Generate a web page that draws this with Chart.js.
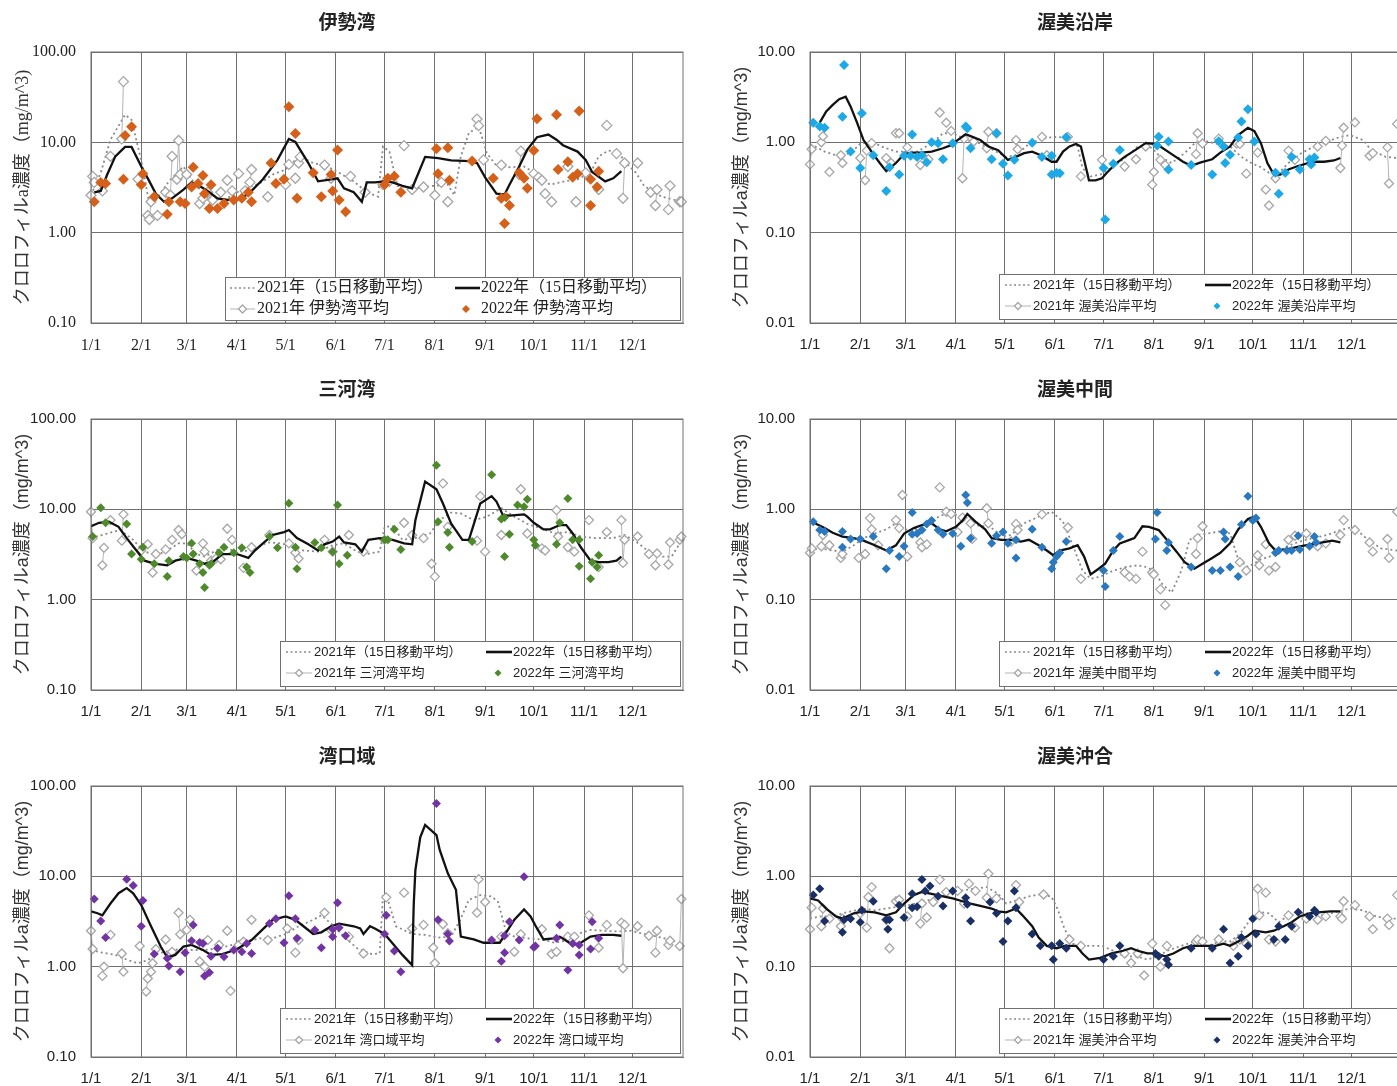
<!DOCTYPE html>
<html>
<head>
<meta charset="utf-8">
<script src="https://cdn.jsdelivr.net/npm/chart.js@4.4.1/dist/chart.umd.min.js"></script>
<style>
html, body { margin: 0; padding: 0; background: #fff; overflow: hidden; width: 1397px; height: 1086px; }
.panel { position: absolute; width: 700px; height: 367px; }
</style>
</head>
<body>
<div class="panel" style="left:0;top:0"><canvas id="c1" width="700" height="367"></canvas></div>
<div class="panel" style="left:719px;top:0"><canvas id="c2" width="700" height="367"></canvas></div>
<div class="panel" style="left:0;top:367px"><canvas id="c3" width="700" height="367"></canvas></div>
<div class="panel" style="left:719px;top:367px"><canvas id="c4" width="700" height="367"></canvas></div>
<div class="panel" style="left:0;top:734px"><canvas id="c5" width="700" height="367"></canvas></div>
<div class="panel" style="left:719px;top:734px"><canvas id="c6" width="700" height="367"></canvas></div>
<script>
// Axis ticks
const monthTicks = [0, 31, 59, 90, 120, 151, 181, 212, 243, 273, 304, 334];
const monthLabels = ['1/1', '2/1', '3/1', '4/1', '5/1', '6/1', '7/1', '8/1', '9/1', '10/1', '11/1', '12/1'];
const bayTicks = [0.1, 1, 10, 100];
const atsumiTicks = [0.01, 0.1, 1, 10];

// 伊勢湾
const ise21Days = [0,1,2,7,12,19,20,29,35,36,37,41,46,49,50,53,54,55,59,67,69,72,75,80,84,87,91,95,98,99,109,120,122,126,128,129,144,148,160,169,180,184,193,198,205,212,216,220,238,239,242,253,264,265,273,276,278,280,284,294,299,305,313,318,324,328,329,337,345,348,349,356,357,363,364];
const ise21Vals = [2.6,4.2,3.6,2.9,7.0,10.9,47,3.9,1.55,1.4,2.2,1.55,2.8,2.6,7.0,3.9,10.5,4.4,4.4,2.1,2.4,2.8,2.3,2.8,3.8,2.9,4.5,2.9,3.6,5.0,2.5,3.4,5.7,4.0,5.9,6.9,5.6,4.0,4.2,2.8,3.4,3.7,9.2,3.0,3.2,2.6,3.6,2.2,18.1,15.3,6.4,5.6,4.4,8.0,4.5,4.1,3.8,2.7,2.2,5.4,2.2,4.6,3.0,15.4,7.5,2.4,5.9,5.9,2.8,2.0,3.0,1.8,3.3,2.2,2.2];
const ise21AvgDays = [0,6,12,21,25,32,36,40,48,57,62,70,76,84,93,104,112,120,126,131,137,145,153,162,170,177,180,184,189,200,211,220,224,228,233,239,244,250,258,267,275,283,292,300,308,313,319,325,330,336,341,347,352,360,365];
const ise21Avg = [2.6,4.6,10.7,20.2,17.8,5.2,2.05,2.3,3.7,5.4,3.9,2.6,2.3,2.4,3.0,3.5,4.4,5.0,6.4,6.7,5.9,5.5,4.6,3.7,2.8,2.5,9.0,7.9,3.3,3.1,3.3,3.4,2.6,7.0,12.7,15.0,7.6,5.5,5.3,5.4,4.4,3.4,3.7,3.9,4.6,7.0,8.1,7.8,5.9,4.6,3.3,2.8,2.5,2.3,2.1];
const ise22Days = [2,6,9,20,21,25,31,32,39,47,48,55,58,62,63,66,69,70,73,74,78,82,88,93,97,99,111,114,119,122,126,127,137,142,148,149,152,153,157,181,183,187,191,213,214,220,221,235,248,253,255,256,258,264,267,269,273,275,287,288,294,297,300,301,308,308,312,313];
const ise22Vals = [2.2,3.6,3.5,3.9,11.9,14.9,3.4,4.5,2.5,1.6,2.2,2.2,2.1,3.2,5.3,3.5,4.3,2.7,1.85,3.4,1.85,2.1,2.3,2.4,2.8,2.2,5.9,3.5,3.9,24.7,12.5,2.4,4.6,2.5,4.4,2.9,8.2,2.3,1.7,3.4,4.0,4.2,2.8,8.5,4.5,8.7,3.8,6.2,4.0,2.4,1.26,2.5,2.0,4.6,4.0,3.1,8.1,18.2,20.2,5.0,6.1,4.1,4.5,22.2,3.9,2.0,3.2,4.8];
const ise22AvgDays = [2,6,10,15,21,25,31,36,40,45,50,57,62,68,73,78,84,93,99,106,115,122,126,134,140,148,152,156,162,167,170,175,181,186,192,198,206,214,222,233,238,243,250,255,258,264,269,275,282,287,291,300,305,309,317,322,327];
const ise22Avg = [2.8,2.9,4.4,7.0,8.9,8.9,5.4,3.7,2.7,2.2,2.4,3.0,3.6,3.2,2.8,2.4,2.3,2.4,2.9,3.9,6.4,10.9,10.1,5.9,3.7,3.9,4.0,3.1,2.8,2.2,3.6,3.6,3.7,3.6,3.3,3.1,6.9,6.7,6.3,6.2,5.9,4.1,2.7,2.65,3.4,5.4,8.3,11.4,12.2,10.7,9.3,7.9,6.4,4.7,3.7,4.0,4.8];

// 渥美沿岸
const engan21Days = [0,1,7,8,12,19,20,31,34,35,38,47,50,53,55,60,68,73,80,84,87,94,95,101,109,110,115,127,128,143,146,159,167,180,194,201,207,211,212,216,219,238,239,242,252,263,265,269,276,281,283,287,295,299,313,318,327,328,329,336,345,347,356,357,362];
const engan21Vals = [0.57,0.84,1.0,1.17,0.47,0.72,0.59,0.67,0.38,0.81,0.98,0.67,0.59,1.26,1.26,0.88,0.56,0.65,2.14,1.65,1.34,0.4,1.1,1.02,0.86,1.31,1.26,1.06,0.84,1.15,0.72,1.15,0.42,0.64,0.54,0.65,0.9,0.34,0.47,0.64,0.56,0.74,1.26,0.97,1.1,0.97,0.96,0.45,0.77,0.3,0.2,0.4,0.81,0.64,0.9,1.04,0.52,0.92,1.45,1.66,0.71,0.76,0.88,0.35,1.6];
const engan21AvgDays = [0,3,9,14,20,27,31,38,44,53,58,66,75,82,88,97,105,113,121,127,135,143,152,160,165,168,173,179,187,195,202,207,211,216,223,231,237,242,250,259,266,272,278,283,289,295,303,311,319,327,333,341,346,355,362];
const engan21Avg = [0.93,0.9,0.79,0.74,0.69,0.82,0.97,1.02,0.9,0.79,0.79,0.79,0.97,1.26,1.26,1.06,0.97,0.82,0.69,0.72,0.96,1.1,1.15,1.1,0.9,0.52,0.42,0.44,0.54,0.69,0.9,0.93,0.86,0.69,0.59,0.76,0.97,1.06,0.97,0.9,0.69,0.59,0.53,0.46,0.46,0.59,0.76,0.9,1.02,1.15,1.2,1.06,0.82,0.69,0.67];
const engan22Days = [2,6,9,20,21,25,31,32,39,47,49,55,58,62,63,66,69,72,75,79,82,88,96,97,99,112,115,119,122,126,137,143,149,149,152,154,158,181,182,187,191,214,215,221,221,235,248,252,255,256,259,264,266,270,274,287,289,293,297,302,308,309,311];
const engan22Vals = [1.65,1.5,1.45,1.92,7.2,0.79,0.52,2.1,0.72,0.29,0.53,0.44,0.71,0.71,1.22,0.69,0.72,0.6,1.0,0.98,0.65,0.98,1.5,1.43,0.86,0.65,1.26,0.58,0.43,0.64,0.99,0.69,0.71,0.44,0.46,0.455,1.14,0.52,0.14,0.58,0.82,0.92,1.15,1.02,0.5,0.56,0.44,1.03,0.9,0.59,0.73,1.13,1.7,2.33,1.02,0.46,0.27,0.46,0.69,0.5,0.65,0.57,0.68];
const engan22AvgDays = [6,10,14,18,22,25,29,33,39,43,47,53,58,64,69,75,82,87,91,96,99,105,110,116,122,127,132,137,143,149,152,156,160,164,167,169,172,176,180,183,189,194,200,207,212,216,223,230,235,241,248,253,259,264,270,274,278,282,286,290,295,300,307,312,317,323,327];
const engan22Avg = [1.65,2.2,2.6,3.0,3.2,2.5,1.65,1.06,0.74,0.59,0.48,0.59,0.74,0.77,0.77,0.79,0.86,0.93,1.06,1.23,1.17,1.06,0.9,0.82,0.64,0.69,0.76,0.79,0.71,0.61,0.61,0.79,0.9,0.96,0.9,0.64,0.38,0.38,0.4,0.46,0.59,0.69,0.81,0.98,0.96,0.9,0.74,0.61,0.55,0.6,0.65,0.77,0.9,1.2,1.45,1.33,0.98,0.59,0.44,0.44,0.5,0.54,0.59,0.61,0.61,0.63,0.67];

// 三河湾
const mikawa21Days = [0,1,7,8,12,19,20,31,35,38,40,46,50,54,56,65,69,70,74,77,80,84,87,94,99,110,122,126,128,144,149,159,168,181,193,198,205,210,212,217,220,238,240,243,253,265,269,278,280,287,288,294,298,307,313,318,327,328,329,337,344,348,349,356,357,363,364];
const mikawa21Vals = [9.4,4.8,2.4,3.75,7.6,4.5,8.8,3.5,4.1,2.0,3.2,3.6,4.6,5.9,5.3,2.1,4.2,3.4,2.7,2.85,2.8,6.1,4.6,2.25,3.8,5.2,4.2,3.3,2.85,4.6,3.4,5.2,3.4,4.6,7.1,5.2,4.8,2.5,1.8,19.4,6.4,4.5,14.0,3.4,5.2,16.7,5.4,3.7,3.5,9.8,5.0,3.8,3.4,7.6,2.3,5.6,7.6,2.55,4.6,5.0,3.2,2.4,3.25,2.45,4.3,4.6,5.0];
const mikawa21AvgDays = [0,10,18,26,32,39,46,54,59,65,70,76,81,90,98,109,117,126,131,140,149,156,164,170,178,181,186,192,200,209,215,222,228,236,244,253,261,269,278,286,294,302,311,322,329,336,344,352,358,365];
const mikawa21Avg = [4.8,5.4,5.9,4.6,3.5,3.1,3.4,4.2,4.2,3.2,3.0,3.4,3.8,3.4,3.5,4.3,4.2,3.8,3.5,3.4,4.0,4.2,3.4,3.2,3.4,6.4,6.5,4.6,4.8,5.4,7.6,9.2,9.0,7.6,8.3,10.3,8.3,6.9,6.1,5.4,5.6,5.0,4.8,4.8,5.2,4.4,3.4,3.0,3.0,4.8];
const mikawa22Days = [1,6,9,22,25,31,32,39,47,48,57,59,62,63,67,69,70,73,74,79,82,88,93,96,98,110,115,122,126,127,138,142,149,152,153,158,181,183,187,191,213,214,220,221,235,247,253,255,255,258,263,267,269,273,274,287,289,294,297,301,301,308,309,312,313];
const mikawa22Vals = [5.0,10.4,7.1,6.9,3.2,2.8,3.8,2.5,1.8,2.7,3.0,2.9,4.2,3.2,2.5,2.0,1.36,2.4,2.5,3.3,3.8,3.3,3.75,2.3,2.0,5.0,3.75,11.7,3.8,2.2,4.3,3.75,3.4,11.2,2.5,3.1,4.6,4.6,6.0,3.6,30.8,7.3,5.55,3.8,4.4,24.1,7.8,8.1,3.0,5.3,11.2,10.7,12.9,4.6,4.0,4.1,7.1,13.2,4.6,2.35,4.6,1.7,2.6,2.3,3.1];
const mikawa22AvgDays = [0,5,11,17,22,28,33,39,47,52,59,65,70,75,81,90,97,101,106,112,119,122,127,134,140,144,149,153,156,163,167,171,178,186,193,198,200,206,213,217,222,229,233,240,247,250,254,258,267,269,273,279,283,289,293,297,302,308,313,319,324,327];
const mikawa22Avg = [6.5,7.1,7.3,6.4,4.8,3.5,2.7,2.5,2.4,2.7,2.9,2.7,2.5,2.6,3.2,3.2,2.9,3.5,4.2,5.2,5.6,5.9,4.8,4.1,3.5,4.1,4.4,5.0,4.3,4.1,3.4,4.6,4.8,4.6,4.2,4.1,7.6,20.3,16.7,11.6,7.0,4.6,4.6,11.6,14.0,12.2,8.6,8.5,8.8,8.3,7.1,6.0,6.0,6.7,6.7,5.4,3.8,2.7,2.6,2.6,2.7,3.0];

// 渥美中間
const chukan21Days = [0,1,7,8,12,19,20,30,34,37,38,42,53,55,57,60,68,69,72,80,84,87,91,94,99,100,109,110,124,127,128,143,159,167,194,197,201,205,211,212,216,219,238,239,242,265,269,276,277,281,283,287,295,299,306,313,318,327,329,336,345,347,356,357,362];
const chukan21Vals = [0.33,0.37,0.39,0.52,0.4,0.29,0.32,0.29,0.32,0.8,0.6,0.4,0.76,0.62,1.44,0.3,0.43,0.38,0.41,1.75,0.94,0.89,0.56,0.81,0.7,0.47,1.03,0.7,0.44,0.69,0.59,0.88,0.63,0.17,0.2,0.18,0.17,0.34,0.2,0.19,0.13,0.087,0.32,0.48,0.65,0.26,0.21,0.31,0.24,0.41,0.21,0.23,0.46,0.51,0.54,0.39,0.42,0.52,0.76,0.59,0.43,0.34,0.47,0.29,0.94];
const chukan21AvgDays = [0,6,14,20,27,33,40,47,53,58,64,72,80,87,94,102,111,119,124,132,141,149,156,162,168,173,179,187,195,202,207,212,217,223,229,234,239,245,253,259,264,270,278,286,294,302,310,319,327,335,344,352,362];
const chukan21Avg = [0.35,0.37,0.35,0.34,0.4,0.48,0.54,0.6,0.7,0.6,0.59,0.7,0.84,0.94,0.77,0.67,0.64,0.5,0.52,0.7,0.83,0.94,0.73,0.4,0.21,0.17,0.18,0.21,0.23,0.24,0.23,0.21,0.15,0.12,0.21,0.46,0.52,0.54,0.57,0.54,0.28,0.23,0.28,0.31,0.39,0.44,0.48,0.52,0.59,0.64,0.46,0.37,0.35];
const chukan22Days = [2,6,9,20,20,25,31,39,47,49,55,58,63,63,66,69,72,75,79,82,88,93,96,97,99,112,115,119,122,127,127,137,143,149,150,152,154,158,181,182,187,191,213,214,220,221,235,248,253,255,256,259,264,266,270,273,275,287,289,294,297,301,302,308,311,312];
const chukan22Vals = [0.73,0.59,0.57,0.57,0.38,0.47,0.47,0.5,0.22,0.35,0.3,0.39,0.92,0.53,0.54,0.59,0.69,0.75,0.59,0.53,0.54,0.39,1.44,1.18,0.48,0.42,0.51,0.56,0.42,0.29,0.46,0.6,0.38,0.22,0.26,0.3,0.33,0.44,0.21,0.14,0.35,0.5,0.47,0.92,0.35,0.43,0.23,0.21,0.21,0.56,0.47,0.23,0.18,0.68,1.4,0.75,0.8,0.33,0.35,0.35,0.35,0.51,0.36,0.39,0.5,0.43];
const chukan22AvgDays = [3,9,14,20,27,33,40,47,53,58,64,69,75,80,84,90,94,97,102,108,112,118,124,130,135,141,146,150,154,160,165,169,173,178,182,187,191,197,200,205,209,215,220,226,231,237,242,248,253,259,264,270,274,278,283,287,294,302,309,316,322,327];
const chukan22Avg = [0.7,0.62,0.55,0.5,0.48,0.45,0.4,0.35,0.4,0.54,0.62,0.67,0.7,0.6,0.57,0.64,0.75,0.89,0.73,0.6,0.48,0.46,0.46,0.44,0.46,0.4,0.35,0.31,0.35,0.37,0.4,0.3,0.19,0.22,0.25,0.35,0.42,0.46,0.48,0.65,0.64,0.59,0.46,0.34,0.26,0.22,0.25,0.29,0.33,0.42,0.6,0.78,0.83,0.64,0.42,0.35,0.36,0.39,0.41,0.43,0.45,0.43];

// 湾口域
const mouth21Days = [0,1,7,8,12,19,20,30,34,35,37,38,40,46,49,50,54,55,59,61,67,70,72,79,84,86,91,94,99,109,121,126,128,144,148,159,168,182,193,198,205,211,212,217,220,238,239,243,253,261,265,278,284,287,294,298,307,313,318,327,328,329,337,344,348,349,356,357,363,364];
const mouth21Vals = [2.5,1.57,0.79,1.0,2.25,1.4,0.88,1.69,0.53,0.74,0.88,1.09,1.56,2.0,1.35,1.46,3.96,2.28,2.55,3.3,1.14,1.0,1.97,1.74,2.5,0.54,1.74,1.89,3.3,1.97,2.65,1.43,1.97,3.96,2.55,2.15,1.4,5.85,6.6,2.65,2.9,1.62,1.09,2.95,2.35,3.96,9.3,5.2,2.15,1.46,2.28,2.6,1.38,1.46,2.15,2.15,3.7,1.62,2.9,3.07,0.96,2.9,2.8,2.2,1.43,2.5,1.74,1.94,1.69,5.6];
const mouth21AvgDays = [0,7,15,23,29,35,40,46,54,62,70,79,87,95,104,112,120,128,137,142,148,156,164,173,178,180,183,188,198,206,214,222,228,233,240,247,251,256,261,269,278,286,294,300,308,316,325,333,341,349,358,365];
const mouth21Avg = [1.53,1.43,1.35,1.18,1.09,1.18,1.4,1.46,1.56,1.53,1.53,1.6,1.74,1.89,2.06,2.06,2.3,2.8,3.3,3.7,3.0,2.15,1.6,1.38,1.4,6.0,5.5,2.8,2.3,2.25,2.1,2.15,3.4,5.5,6.2,6.0,5.2,2.4,2.15,2.06,2.0,1.84,1.97,2.3,2.55,2.5,2.45,2.5,2.3,2.15,1.97,1.74];
const mouth22Days = [2,6,9,22,26,31,32,39,47,48,55,58,62,63,67,69,70,73,74,78,82,88,93,96,99,110,114,119,122,126,127,138,142,149,149,152,153,157,181,182,187,191,213,214,220,221,247,253,255,255,258,264,267,273,274,287,289,294,297,301,301,308,309,313];
const mouth22Vals = [5.6,3.2,2.1,9.3,7.9,2.8,5.4,1.38,1.24,1.02,0.88,1.43,1.94,2.9,1.85,1.81,0.79,0.86,1.3,1.6,1.29,1.53,1.46,1.81,1.4,3.0,3.4,1.84,6.1,3.4,2.06,2.55,1.62,2.15,2.6,5.1,2.7,2.2,2.3,3.7,1.49,0.88,64,3.3,2.3,1.92,1.97,1.15,1.43,2.2,3.15,1.97,9.9,1.64,1.69,2.06,2.9,0.92,1.81,1.35,1.74,1.57,3.15,2.06];
const mouth22AvgDays = [0,4,7,12,17,22,26,31,37,43,47,52,57,62,69,74,81,90,99,106,112,120,126,131,137,142,148,153,162,166,168,172,175,181,186,192,198,199,200,203,206,213,215,220,225,228,231,236,242,247,252,257,261,267,271,275,279,285,289,293,297,302,308,315,322,327];
const mouth22Avg = [4.1,3.9,3.7,5.0,6.5,7.4,6.5,4.8,2.8,1.67,1.27,1.35,1.67,1.74,1.53,1.35,1.38,1.56,1.97,2.6,3.3,3.6,3.3,2.8,2.3,2.4,2.8,3.0,2.8,2.65,2.3,2.8,2.65,2.3,1.81,1.35,1.04,5.0,11.7,27,37,28.6,19.6,10.8,7.1,2.15,2.1,2.0,1.84,1.84,1.84,2.55,3.3,4.3,3.6,2.65,2.0,2.06,2.15,1.94,1.74,1.84,2.15,2.25,2.25,2.2];

// 渥美沖合
const oki21Days = [0,1,7,8,12,19,20,31,35,36,38,47,49,53,55,60,68,69,72,76,80,84,91,95,98,102,109,110,115,127,129,144,160,167,194,198,202,206,211,216,220,238,239,242,252,261,265,269,276,277,281,283,287,295,299,306,313,318,327,328,329,336,345,347,356,357,362];
const oki21Vals = [0.26,0.45,0.28,0.44,0.34,0.28,0.34,0.39,0.27,0.59,0.76,0.33,0.16,0.53,0.55,0.36,0.3,0.5,0.35,0.52,0.92,0.67,0.69,0.5,0.83,0.69,0.58,1.07,0.57,0.8,0.52,0.63,0.2,0.17,0.14,0.11,0.14,0.08,0.18,0.1,0.17,0.19,0.2,0.19,0.2,0.17,0.2,0.18,0.73,0.37,0.66,0.2,0.19,0.37,0.27,0.34,0.33,0.36,0.36,0.34,0.53,0.48,0.36,0.26,0.34,0.29,0.62];
const oki21AvgDays = [0,6,14,20,28,33,40,47,54,61,69,77,86,94,102,109,116,121,127,135,143,149,153,157,162,168,173,180,187,194,201,208,215,220,229,237,245,253,259,265,272,278,283,289,294,301,308,316,324,333,341,349,357,362];
const oki21Avg = [0.34,0.36,0.36,0.39,0.42,0.44,0.42,0.44,0.46,0.48,0.52,0.57,0.64,0.7,0.73,0.76,0.64,0.5,0.54,0.6,0.64,0.59,0.42,0.26,0.18,0.17,0.17,0.17,0.15,0.13,0.13,0.12,0.13,0.15,0.17,0.19,0.17,0.19,0.19,0.23,0.34,0.4,0.39,0.31,0.36,0.39,0.39,0.37,0.4,0.44,0.42,0.36,0.34,0.34];
const oki22Days = [2,6,9,20,21,25,31,32,39,47,48,49,55,58,63,63,66,69,71,74,79,82,88,96,97,99,111,115,119,122,126,127,137,142,149,150,154,158,181,187,191,213,215,220,221,235,248,255,259,264,266,270,273,275,286,289,293,297,301,308,311,312];
const oki22Vals = [0.62,0.73,0.32,0.24,0.33,0.34,0.31,0.42,0.53,0.33,0.26,0.33,0.48,0.35,0.64,0.45,0.46,0.92,0.69,0.78,0.6,0.47,0.69,0.58,0.49,0.32,0.52,0.39,0.19,0.32,0.69,0.45,0.23,0.17,0.17,0.12,0.18,0.16,0.12,0.13,0.17,0.14,0.13,0.12,0.105,0.16,0.16,0.26,0.11,0.13,0.21,0.17,0.34,0.23,0.2,0.28,0.2,0.28,0.4,0.36,0.42,0.4];
const oki22AvgDays = [0,5,10,16,20,27,33,40,47,53,58,64,69,75,82,88,94,99,105,112,116,121,127,131,137,141,146,152,157,164,168,172,179,186,193,198,202,208,213,219,224,230,235,242,250,255,259,264,270,274,281,286,292,297,302,308,313,321,327];
const oki22Avg = [0.57,0.54,0.44,0.36,0.34,0.39,0.41,0.4,0.37,0.4,0.5,0.62,0.67,0.64,0.6,0.57,0.53,0.5,0.47,0.44,0.41,0.4,0.44,0.37,0.28,0.21,0.17,0.16,0.17,0.17,0.14,0.12,0.125,0.14,0.15,0.16,0.15,0.14,0.14,0.13,0.14,0.16,0.17,0.17,0.17,0.18,0.17,0.19,0.22,0.25,0.24,0.25,0.28,0.31,0.36,0.39,0.4,0.41,0.41];

const GRID = '#707070';
const SANS = '"Liberation Sans", "Noto Sans CJK JP", sans-serif';
const SERIF = '"Liberation Serif", "Noto Sans CJK JP", serif';

function pts(days, vals) {
    return days.map((d, i) => ({ x: d, y: vals[i] }));
}

// 2021 markers are daily values: a line joins only neighbouring days
function dailyPts(days, vals) {
    const out = [];
    days.forEach((d, i) => {
        if (i > 0 && d - days[i - 1] > 1) out.push({ x: d - 0.5, y: null });
        out.push({ x: d, y: vals[i] });
    });
    return out;
}

function diamond(ctx, x, y, r, fill, stroke) {
    ctx.beginPath();
    ctx.moveTo(x, y - r); ctx.lineTo(x + r, y); ctx.lineTo(x, y + r); ctx.lineTo(x - r, y);
    ctx.closePath();
    ctx.fillStyle = fill; ctx.fill();
    if (stroke) { ctx.strokeStyle = stroke; ctx.lineWidth = 1.3; ctx.stroke(); }
}

const sansLegend = { x: 280, y: 274, w: 400, h: 45, r1: 285, r2: 306, dot: [286, 312], tx1: 314, solid: [486, 512], tx2: 513, dia2: 498, font: '13px ' + SANS, r: 3.5 };
const serifLegend = { x: 225, y: 277, w: 455, h: 43, r1: 288, r2: 309, dot: [230, 255], tx1: 257, solid: [455, 480], tx2: 481, dia2: 466, font: '16px ' + SERIF, r: 4 };

// frame, title and in-plot legend box
const decor = {
    id: 'decor',
    afterDraw(chart, args, o) {
        const ctx = chart.ctx, a = chart.chartArea, L = o.legend;
        const ds = chart.data.datasets;
        ctx.save();
        ctx.strokeStyle = GRID; ctx.lineWidth = 1;
        ctx.strokeRect(a.left, a.top, a.right - a.left, a.bottom - a.top);

        ctx.fillStyle = '#222';
        ctx.font = 'bold 19px "Noto Sans CJK JP", sans-serif';
        ctx.textAlign = 'center'; ctx.textBaseline = 'middle';
        ctx.fillText(o.title, o.titleX, 22);

        ctx.fillStyle = '#fff';
        ctx.fillRect(L.x, L.y, L.w, L.h);
        ctx.strokeStyle = GRID; ctx.lineWidth = 1;
        ctx.strokeRect(L.x + 0.5, L.y + 0.5, L.w, L.h);

        ctx.font = L.font; ctx.textAlign = 'left'; ctx.fillStyle = '#222';
        ctx.setLineDash([2, 2.5]); ctx.strokeStyle = '#8a8a8a'; ctx.lineWidth = 1.6;
        ctx.beginPath(); ctx.moveTo(L.dot[0], L.r1); ctx.lineTo(L.dot[1], L.r1); ctx.stroke();
        ctx.setLineDash([]);
        ctx.fillStyle = '#222'; ctx.fillText(ds[0].label, L.tx1, L.r1);
        ctx.strokeStyle = '#111'; ctx.lineWidth = 2.6;
        ctx.beginPath(); ctx.moveTo(L.solid[0], L.r1); ctx.lineTo(L.solid[1], L.r1); ctx.stroke();
        ctx.fillStyle = '#222'; ctx.fillText(ds[3].label, L.tx2, L.r1);

        ctx.strokeStyle = '#b4b4b4'; ctx.lineWidth = 1;
        ctx.beginPath(); ctx.moveTo(L.dot[0], L.r2); ctx.lineTo(L.dot[1], L.r2); ctx.stroke();
        diamond(ctx, (L.dot[0] + L.dot[1]) / 2, L.r2, L.r, '#fff', '#a6a6a6');
        ctx.fillStyle = '#222'; ctx.fillText(ds[1].label, L.tx1, L.r2);
        diamond(ctx, L.dia2, L.r2, L.r, o.color);
        ctx.fillStyle = '#222'; ctx.fillText(ds[2].label, L.tx2, L.r2);
        ctx.restore();
    }
};

function makePanel(id, p) {
    const font = p.serif ? SERIF : SANS;
    new Chart(document.getElementById(id), {
        type: 'line',
        data: {
            datasets: [
                { label: '2021年（15日移動平均）', data: pts(p.avg21Days, p.avg21), borderColor: '#8a8a8a', borderWidth: 1.8, borderDash: [2, 3], pointRadius: 0, order: 4 },
                { label: '2021年 ' + p.name + '平均', data: dailyPts(p.days21, p.vals21), borderColor: '#b4b4b4', borderWidth: 1, spanGaps: false, pointStyle: 'rectRot', pointRadius: p.r21, pointBackgroundColor: '#fff', pointBorderColor: '#a6a6a6', pointBorderWidth: 1.3, order: 3, clip: 8 },
                { label: '2022年 ' + p.name + '平均', data: pts(p.days22, p.vals22), showLine: false, pointStyle: 'rectRot', pointRadius: p.r22, pointBackgroundColor: p.color, pointBorderColor: p.color, pointBorderWidth: 0, order: 1, clip: 8 },
                { label: '2022年（15日移動平均）', data: pts(p.avg22Days, p.avg22), borderColor: '#111', borderWidth: 2.3, pointRadius: 0, order: 2 }
            ]
        },
        options: {
            responsive: false,
            animation: false,
            layout: { padding: { top: 52, right: 17, bottom: 0, left: 0 } },
            plugins: {
                legend: { display: false },
                tooltip: { enabled: false },
                decor: { title: p.title, titleX: p.titleX, color: p.color, legend: p.serif ? serifLegend : sansLegend }
            },
            scales: {
                x: {
                    type: 'linear', min: 0, max: 365,
                    afterBuildTicks: s => { s.ticks = monthTicks.map(v => ({ value: v })); },
                    afterFit: s => { s.height = 44; },
                    grid: { color: GRID, lineWidth: 1, drawTicks: false },
                    border: { color: GRID },
                    ticks: { autoSkip: false, maxRotation: 0, padding: 13, color: '#222', font: { family: font, size: p.serif ? 16 : 15 }, callback: (v, i) => monthLabels[i] }
                },
                y: {
                    type: 'logarithmic', min: p.yTicks[0], max: p.yTicks[p.yTicks.length - 1],
                    afterBuildTicks: s => { s.ticks = p.yTicks.map(v => ({ value: v })); },
                    afterFit: s => { s.width = 91; },
                    grid: { color: GRID, lineWidth: 1, drawTicks: false },
                    border: { color: GRID },
                    ticks: { padding: 15, color: '#222', font: { family: font, size: p.serif ? 16 : 15 }, callback: v => Number(v).toFixed(2) },
                    title: { display: true, text: 'クロロフィルa濃度（mg/m^3)', color: '#333', padding: { top: 12 }, font: { family: font, size: 18 } }
                }
            }
        },
        plugins: [decor]
    });
}

makePanel('c1', { title: '伊勢湾', name: '伊勢湾', titleX: 347, serif: true, color: '#d4601a', r21: 5, r22: 5.5, yTicks: bayTicks,
    days21: ise21Days, vals21: ise21Vals, avg21Days: ise21AvgDays, avg21: ise21Avg, days22: ise22Days, vals22: ise22Vals, avg22Days: ise22AvgDays, avg22: ise22Avg });
makePanel('c2', { title: '渥美沿岸', name: '渥美沿岸', titleX: 356, serif: false, color: '#1ca9e6', r21: 4.5, r22: 5, yTicks: atsumiTicks,
    days21: engan21Days, vals21: engan21Vals, avg21Days: engan21AvgDays, avg21: engan21Avg, days22: engan22Days, vals22: engan22Vals, avg22Days: engan22AvgDays, avg22: engan22Avg });
makePanel('c3', { title: '三河湾', name: '三河湾', titleX: 347, serif: false, color: '#4e8a2c', r21: 4.5, r22: 4.5, yTicks: bayTicks,
    days21: mikawa21Days, vals21: mikawa21Vals, avg21Days: mikawa21AvgDays, avg21: mikawa21Avg, days22: mikawa22Days, vals22: mikawa22Vals, avg22Days: mikawa22AvgDays, avg22: mikawa22Avg });
makePanel('c4', { title: '渥美中間', name: '渥美中間', titleX: 356, serif: false, color: '#2a78bf', r21: 4.5, r22: 4.5, yTicks: atsumiTicks,
    days21: chukan21Days, vals21: chukan21Vals, avg21Days: chukan21AvgDays, avg21: chukan21Avg, days22: chukan22Days, vals22: chukan22Vals, avg22Days: chukan22AvgDays, avg22: chukan22Avg });
makePanel('c5', { title: '湾口域', name: '湾口域', titleX: 347, serif: false, color: '#7233a3', r21: 4.5, r22: 4.5, yTicks: bayTicks,
    days21: mouth21Days, vals21: mouth21Vals, avg21Days: mouth21AvgDays, avg21: mouth21Avg, days22: mouth22Days, vals22: mouth22Vals, avg22Days: mouth22AvgDays, avg22: mouth22Avg });
makePanel('c6', { title: '渥美沖合', name: '渥美沖合', titleX: 356, serif: false, color: '#1a2f66', r21: 4.5, r22: 4.5, yTicks: atsumiTicks,
    days21: oki21Days, vals21: oki21Vals, avg21Days: oki21AvgDays, avg21: oki21Avg, days22: oki22Days, vals22: oki22Vals, avg22Days: oki22AvgDays, avg22: oki22Avg });
</script>
</body>
</html>
